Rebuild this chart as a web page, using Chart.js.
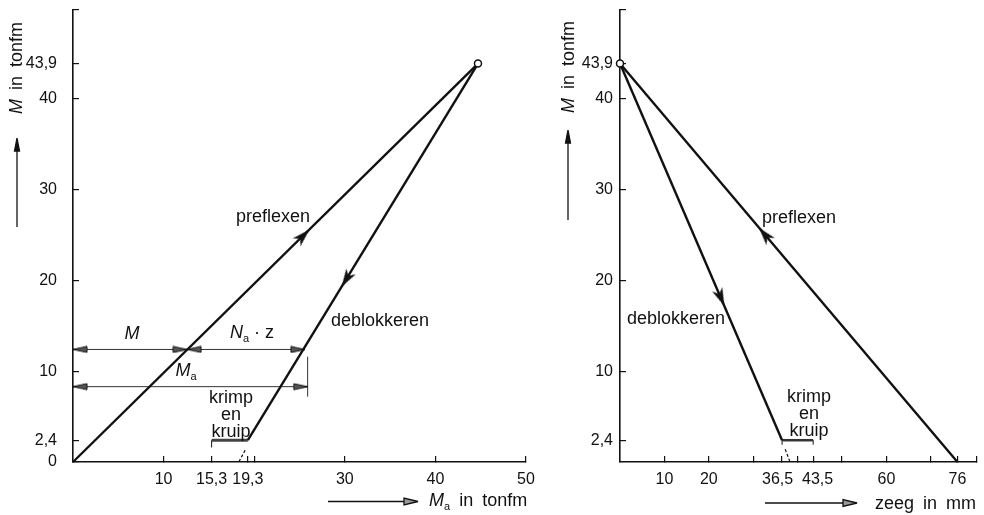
<!DOCTYPE html>
<html>
<head>
<meta charset="utf-8">
<title>Preflexen en deblokkeren</title>
<script src="https://cdn.jsdelivr.net/npm/chart.js@4.4.1/dist/chart.umd.min.js"></script>
<style>
  body { margin: 0; background: #fff; }
  #wrap { position: relative; width: 984px; height: 515px; overflow: hidden;
          font-family: 'Liberation Sans', Arial, sans-serif; color: #111; }
  canvas { position: absolute; top: 0; }
  .lbl { position: absolute; font-size: 18px; line-height: 1; white-space: nowrap;
         transform: translate(-50%, -50%); }
  .lbl sub { font-size: 11px; vertical-align: -4px; font-style: normal; }
  .stack { text-align: center; line-height: 17px; }
  .ytitle { transform: translate(-50%, -50%) rotate(-90deg); word-spacing: 4px; }
  .xtitle { transform: translate(0, -50%); word-spacing: 4px; }
  svg { position: absolute; left: 0; top: 0; }
</style>
</head>
<body>
<div id="wrap">
  <canvas id="left" width="545" height="515" style="left:0"></canvas>
  <canvas id="right" width="439" height="515" style="left:545px"></canvas>

  <svg width="984" height="515">
    <g stroke="#111" stroke-width="1.3" fill="#111">
      <line x1="17" y1="227" x2="17" y2="146"/>
      <polygon points="17,138 14.5,151 19.5,151"/>
      <line x1="568" y1="220" x2="568" y2="138"/>
      <polygon points="568,130 565.5,143 570.5,143"/>
      <line x1="328" y1="501.5" x2="406" y2="501.5"/>
      <polygon points="418,501.5 404,498 404,505" fill="#999"/>
      <line x1="765" y1="503" x2="845" y2="503"/>
      <polygon points="857,503 843,499.5 843,506.5" fill="#999"/>
    </g>
  </svg>

  <div class="lbl ytitle" style="left:16px; top:68px"><i>M</i> in tonfm</div>
  <div class="lbl ytitle" style="left:568px; top:67px"><i>M</i> in tonfm</div>
  <div class="lbl xtitle" style="left:429px; top:501px"><i>M</i><sub>a</sub> in tonfm</div>
  <div class="lbl xtitle" style="left:875px; top:503px">zeeg in mm</div>

  <div class="lbl" style="left:273px; top:216px">preflexen</div>
  <div class="lbl" style="left:380px; top:320px">deblokkeren</div>
  <div class="lbl" style="left:132px; top:333px"><i>M</i></div>
  <div class="lbl" style="left:252px; top:333px"><i>N</i><sub>a</sub> · z</div>
  <div class="lbl" style="left:186px; top:371px"><i>M</i><sub>a</sub></div>
  <div class="lbl stack" style="left:231px; top:414px">krimp<br>en<br>kruip</div>

  <div class="lbl" style="left:799px; top:217px">preflexen</div>
  <div class="lbl" style="left:676px; top:318px">deblokkeren</div>
  <div class="lbl stack" style="left:809px; top:413px">krimp<br>en<br>kruip</div>
</div>

<script>
// --- linker diagram: M tegen Ma (tonfm) ---
const preflexA = [{x: 0, y: 0}, {x: 44.7, y: 43.9}];
const deblokA = [{x: 44.7, y: 43.9}, {x: 19.3, y: 2.4}];
const krimpA = [{x: 15.3, y: 2.4}, {x: 19.3, y: 2.4}];
const krimpStubA = [{x: 15.3, y: 1.6}, {x: 15.3, y: 2.4}];
const dashA = [{x: 19.0, y: 1.3}, {x: 18.3, y: 0}];
const dimM = [{x: 0, y: 12.4}, {x: 12.6, y: 12.4}];
const dimNz = [{x: 12.6, y: 12.4}, {x: 25.6, y: 12.4}];
const dimMa = [{x: 0, y: 8.3}, {x: 25.9, y: 8.3}];
const dimBar = [{x: 25.9, y: 7.2}, {x: 25.9, y: 11.6}];
// pijlpunten: plaats (x, y) en richting naar (tx, ty)
const arrowsA = [
  {x: 26.1, y: 25.6, tx: 44.7, ty: 43.9},
  {x: 29.65, y: 19.3, tx: 19.3, ty: 2.4}
];
const dimArrowsA = [
  {x: 0, y: 12.4, tx: -1, ty: 12.4},
  {x: 12.6, y: 12.4, tx: 13, ty: 12.4},
  {x: 12.6, y: 12.4, tx: 12, ty: 12.4},
  {x: 25.6, y: 12.4, tx: 26, ty: 12.4},
  {x: 0, y: 8.3, tx: -1, ty: 8.3},
  {x: 25.9, y: 8.3, tx: 26.5, ty: 8.3}
];
const peakA = [{x: 44.7, y: 43.9}];

const xTicksA = [10, 15.3, 19.3, 20, 30, 40, 50];
const xLabelsA = ['10', '15,3', '19,3', '', '30', '40', '50'];
const yTicksA = [0, 2.4, 10, 20, 30, 40, 43.9, 49.8];
const yLabelsA = ['0', '2,4', '10', '20', '30', '40', '43,9', ''];

// --- rechter diagram: M tegen zeeg (mm) ---
const preflexB = [{x: 0, y: 43.9}, {x: 76, y: 0}];
const deblokB = [{x: 0, y: 43.9}, {x: 36.5, y: 2.4}];
const krimpB = [{x: 36.5, y: 2.4}, {x: 43.5, y: 2.4}];
const krimpStubB1 = [{x: 36.5, y: 1.9}, {x: 36.5, y: 2.4}];
const krimpStubB2 = [{x: 43.5, y: 1.9}, {x: 43.5, y: 2.4}];
const dashB = [{x: 37.2, y: 1.4}, {x: 38.3, y: 0}];
const arrowsB = [
  {x: 31.3, y: 25.8, tx: 0, ty: 43.9},
  {x: 23.5, y: 17.2, tx: 36.5, ty: 2.4}
];
const peakB = [{x: 0, y: 43.9}];

const xTicksB = [10, 20, 30, 36.5, 40, 43.5, 50, 60, 70, 76, 80.4];
const xLabelsB = ['10', '20', '', '36,5  ', '', '  43,5', '', '60', '', '76', ''];
const yTicksB = [2.4, 10, 20, 30, 40, 43.9, 49.8];
const yLabelsB = ['2,4', '10', '20', '30', '40', '43,9', ''];

const INK = '#111';

function arrowImage(len, half, notch, fill, stroke) {
  const c = document.createElement('canvas');
  c.width = len * 2 + 2;
  c.height = half * 2 + 2;
  const g = c.getContext('2d');
  const tx = len + 1, cy = half + 1;
  g.beginPath();
  g.moveTo(tx, cy);
  g.lineTo(tx - len, cy - half);
  g.lineTo(tx - len + notch, cy);
  g.lineTo(tx - len, cy + half);
  g.closePath();
  g.fillStyle = fill;
  g.fill();
  if (stroke) { g.strokeStyle = stroke; g.lineWidth = 1; g.stroke(); }
  return c;
}
const lineArrow = arrowImage(18, 5.5, 5, INK);
const dimArrow = arrowImage(14, 3, 0, '#555', INK);

// draaiing van de pijlpunt, berekend in pixels via de schalen
function rotTo(ctx) {
  const r = ctx.raw;
  if (!r || r.tx === undefined) return 0;
  const s = ctx.chart.scales;
  const dx = s.x.getPixelForValue(r.tx) - s.x.getPixelForValue(r.x);
  const dy = s.y.getPixelForValue(r.ty) - s.y.getPixelForValue(r.y);
  return Math.atan2(dy, dx) * 180 / Math.PI;
}

function line(data, width, extra) {
  return Object.assign({
    data: data, showLine: true, borderColor: INK, borderWidth: width,
    pointRadius: 0, clip: false
  }, extra || {});
}
function arrows(data, img) {
  return {
    data: data, showLine: false, pointStyle: img, pointRadius: 6,
    pointRotation: rotTo, clip: false
  };
}
function peak(data) {
  return {
    data: data, showLine: false, pointStyle: 'circle', pointRadius: 3.5,
    pointBorderWidth: 1.5, pointBorderColor: INK, pointBackgroundColor: '#fff', clip: false
  };
}

function axes(xTicks, xLabels, xMax, yTicks, yLabels, yWidth, yPad) {
  const tickFont = {family: "'Liberation Sans', Arial, sans-serif", size: 16};
  const common = {
    type: 'linear',
    grid: {display: true, drawOnChartArea: false, drawTicks: true, tickLength: -6, color: INK, lineWidth: 1.2},
    border: {display: true, color: INK, width: 1.6}
  };
  return {
    x: Object.assign({}, common, {
      min: 0, max: xMax,
      afterBuildTicks: s => { s.ticks = xTicks.map(v => ({value: v})); },
      afterFit: s => { s.height = 53; s.paddingLeft = 0; s.paddingRight = 0; },
      ticks: {autoSkip: false, maxRotation: 0, padding: 14, color: INK, font: tickFont,
              callback: (v, i) => xLabels[i]}
    }),
    y: Object.assign({}, common, {
      min: 0, max: 49.8,
      afterBuildTicks: s => { s.ticks = yTicks.map(v => ({value: v})); },
      afterFit: s => { s.width = yWidth; s.paddingTop = 0; s.paddingBottom = 0; },
      ticks: {autoSkip: false, padding: yPad, color: INK, font: tickFont,
              callback: (v, i) => yLabels[i]}
    })
  };
}

function options(scales, padRight) {
  return {
    responsive: false, animation: false, devicePixelRatio: 1, events: [],
    layout: {padding: {top: 10, right: padRight, bottom: 0, left: 0}},
    plugins: {legend: {display: false}, tooltip: {enabled: false}},
    scales: scales
  };
}

new Chart(document.getElementById('left'), {
  type: 'scatter',
  data: {
    datasets: [
      peak(peakA),
      arrows(arrowsA, lineArrow),
      arrows(dimArrowsA, dimArrow),
      line(preflexA, 2.4),
      line(deblokA, 2.4),
      line(krimpA, 3, {borderColor: '#444'}),
      line(krimpStubA, 1),
      line(dashA, 1.2, {borderDash: [3, 2]}),
      line(dimM, 1, {borderColor: '#333'}),
      line(dimNz, 1, {borderColor: '#333'}),
      line(dimMa, 1, {borderColor: '#333'}),
      line(dimBar, 1, {borderColor: '#333'})
    ]
  },
  options: options(axes(xTicksA, xLabelsA, 50, yTicksA, yLabelsA, 73, 22), 19)
});

new Chart(document.getElementById('right'), {
  type: 'scatter',
  data: {
    datasets: [
      peak(peakB),
      arrows(arrowsB, lineArrow),
      line(preflexB, 2.4),
      line(deblokB, 2.4),
      line(krimpB, 2.5, {borderColor: '#333'}),
      line(krimpStubB1, 1),
      line(krimpStubB2, 1),
      line(dashB, 1.2, {borderDash: [3, 2]})
    ]
  },
  options: options(axes(xTicksB, xLabelsB, 80.4, yTicksB, yLabelsB, 75, 13), 2)
});
</script>
</body>
</html>
